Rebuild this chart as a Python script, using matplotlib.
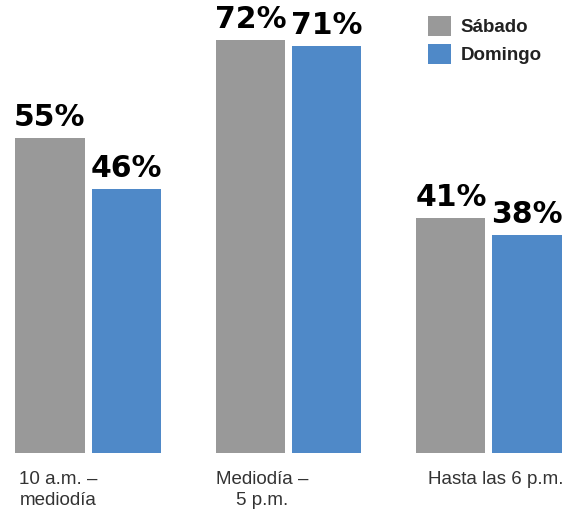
import matplotlib
matplotlib.use("Agg")
from matplotlib import pyplot as plt
import numpy as np

# data
categories = ["10 a.m. –\nmediodía", "Mediodía –\n5 p.m.", "Hasta las 6 p.m."]
series_names = ["Sábado", "Domingo"]
sabado = [55, 72, 41]
domingo = [46, 71, 38]

# layout
colors = ["#999999", "#4f89c8"]
bar_width = 0.345
bar_offset = 0.19
label_shift = [-0.15, -0.13, 0.035]

fig = plt.figure(figsize=(5.76, 5.16), dpi=100)
ax = fig.add_axes([0, 0.1221, 1, 0.8779])

x = np.arange(len(categories))
groups = [sabado, domingo]
for i, values in enumerate(groups):
	pos = x + (i * 2 - 1) * bar_offset
	bars = ax.bar(pos, values, width=bar_width, color=colors[i], label=series_names[i])
	for b, v in zip(bars, values):
		ax.annotate("%d%%" % v, (b.get_x() + b.get_width() / 2, v),
			xytext=(0, 8.5), textcoords="offset points",
			ha="center", va="baseline", fontsize=21.5,
			fontweight="bold", family="DejaVu Sans", color="black")

# category labels below the bars
for i, cat in enumerate(categories):
	ax.text(x[i] + label_shift[i], -3.1, cat, ha="center", va="top",
		multialignment="center", fontsize=13.5, family="Liberation Sans",
		color="#333333", linespacing=1.35)

ax.set_xlim(-0.439, 2.434)
ax.set_ylim(0, 79)
ax.axis("off")

leg = ax.legend(loc="upper left", bbox_to_anchor=(428 / 576, 1 - 16 / 516),
	bbox_transform=fig.transFigure, frameon=False,
	handlelength=1.2, handleheight=1.25, handletextpad=0.55,
	labelspacing=0.4, borderpad=0, borderaxespad=0,
	prop={"family": "Liberation Sans", "weight": "bold", "size": 13.5})
for t in leg.get_texts():
	t.set_color("#222222")

fig.savefig("out.png", dpi=100)
